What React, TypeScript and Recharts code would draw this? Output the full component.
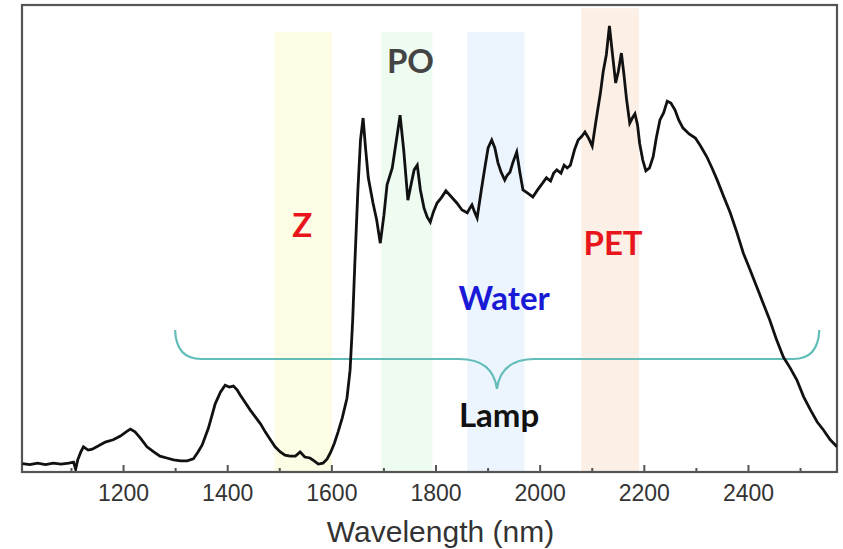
import React from 'react';
import {
  LineChart, Line, XAxis, YAxis, ReferenceArea, ReferenceDot,
} from 'recharts';

// Wavelength (nm) samples along the spectrum
const wavelengthNm = [
  1006, 1020, 1035, 1050, 1065, 1080, 1095, 1104, 1108, 1112,
  1118, 1123, 1132, 1140, 1152, 1165, 1180, 1194, 1205, 1213,
  1222, 1232, 1245, 1258, 1270, 1283, 1296, 1310, 1322, 1334,
  1343, 1351, 1363, 1376, 1386, 1395, 1403, 1411, 1418, 1424,
  1433, 1443, 1453, 1463, 1472, 1482, 1491, 1501, 1510, 1520,
  1530, 1539, 1548, 1558, 1566, 1574, 1583, 1591, 1598, 1605,
  1612, 1620, 1629, 1635, 1640, 1644, 1650, 1655, 1660, 1665,
  1670, 1679, 1686, 1693, 1700, 1706, 1716, 1724, 1731, 1738,
  1746, 1752, 1758, 1764, 1770, 1777, 1783, 1789, 1795, 1802,
  1810, 1819, 1828, 1840, 1850, 1860, 1865, 1869, 1874, 1879,
  1887, 1894, 1900, 1907, 1913, 1919, 1925, 1932, 1937, 1942,
  1948, 1955, 1961, 1967, 1976, 1986, 1995, 2005, 2012, 2020,
  2026, 2032, 2040, 2046, 2052, 2058, 2066, 2073, 2080, 2086,
  2093, 2100, 2106, 2111, 2116, 2121, 2127, 2133, 2139, 2145,
  2150, 2156, 2161, 2166, 2172, 2177, 2182, 2187, 2191, 2197,
  2203, 2210, 2217, 2223, 2230, 2237, 2244, 2251, 2259, 2266,
  2274, 2286, 2298, 2308, 2320, 2330, 2340, 2352, 2365, 2378,
  2390, 2403, 2416, 2428, 2441, 2454, 2467, 2480, 2493, 2506,
  2519, 2532, 2544, 2557, 2570,
];

// Relative intensity (a.u.)
const intensity = [
  1.8, 1.6, 1.9, 1.6, 1.9, 1.7, 1.9, 2.1, 0.6, 2.6,
  4.3, 5.4, 4.7, 4.9, 5.6, 6.4, 6.9, 7.7, 8.6, 9.2,
  8.6, 7.3, 5.4, 4.3, 3.4, 3.0, 2.6, 2.4, 2.4, 2.8,
  4.3, 5.8, 9.4, 14.6, 17.1, 18.6, 18.2, 18.4, 17.6, 16.5,
  15.0, 13.3, 11.8, 10.3, 8.6, 6.9, 5.4, 4.3, 3.6, 3.4,
  3.4, 4.3, 3.2, 3.0, 2.4, 1.7, 1.9, 2.8, 4.3, 6.2,
  8.6, 11.6, 15.8, 21.8, 32.5, 44.3, 60.4, 71.1, 75.8, 69.0,
  63.0, 57.6, 54.0, 49.0, 55.0, 61.5, 65.1, 71.1, 76.4, 68.9,
  58.2, 61.5, 64.7, 65.7, 60.4, 56.5, 54.6, 53.5, 55.7, 57.6,
  58.7, 60.2, 59.1, 57.6, 56.1, 55.5, 56.5, 57.2, 55.7, 54.4,
  60.4, 65.3, 69.4, 71.1, 69.4, 66.2, 64.2, 62.5, 63.6, 64.2,
  66.4, 68.5, 64.2, 60.4, 59.7, 58.9, 60.4, 61.9, 63.0, 62.3,
  64.0, 64.7, 64.0, 65.7, 65.1, 65.7, 69.0, 71.1, 71.9, 72.8,
  71.5, 69.8, 74.3, 77.9, 81.4, 85.7, 89.3, 95.5, 89.3, 83.3,
  85.7, 89.7, 85.0, 79.7, 74.7, 75.8, 76.7, 74.3, 70.4, 66.8,
  64.5, 65.1, 67.5, 71.5, 75.4, 76.9, 79.4, 79.0, 77.5, 75.4,
  73.7, 72.4, 71.5, 69.8, 67.5, 65.1, 62.5, 59.1, 55.5, 51.2,
  46.9, 43.3, 39.6, 36.2, 32.5, 28.3, 24.6, 22.3, 19.7, 16.1,
  13.3, 10.7, 9.0, 6.9, 5.4,
];

const xTicks = [1100, 1200, 1300, 1400, 1500, 1600, 1700, 1800, 1900, 2000, 2100, 2200, 2300, 2400, 2500];
const xDomain = [1005, 2570];
const yDomain = [0, 100];

// Absorption bands (nm)
const bands = [
  { name: 'Z', from: 1490, to: 1600, top: 94.2, color: '#fdfde6' },
  { name: 'PO', from: 1695, to: 1793, top: 94.2, color: '#edfbf1' },
  { name: 'Water', from: 1860, to: 1970, top: 94.2, color: '#ecf5fd' },
  { name: 'PET', from: 2079, to: 2190, top: 99.3, color: '#fcefe5' },
];

const annotations = [
  { text: 'Z', nm: 1543, level: 50.3, color: '#e8161c' },
  { text: 'PO', nm: 1751, level: 85.4, color: '#444444' },
  { text: 'PET', nm: 2140, level: 46.5, color: '#e8161c' },
  { text: 'Water', nm: 1931, level: 34.7, color: '#1a1ad6' },
  { text: 'Lamp', nm: 1921, level: 9.6, color: '#111111' },
];

// Lamp brace: span in nm and levels (top, middle line, tip)
const brace = { from: 1299, to: 2536, tip: 1917, top: 30.4, mid: 24.2, bottom: 17.8 };

const data = wavelengthNm.slice(0, Math.min(wavelengthNm.length, intensity.length)).map((w, i) => ({
  nm: w,
  v: intensity[i],
}));

const AXIS_FONT = 'Arial, "Liberation Sans", sans-serif';

const renderTick = (props: any) => {
  const { x, y, payload } = props;
  const major = payload.value % 200 === 0;
  return (
    <g>
      <line x1={x} x2={x} y1={y} y2={y - (major ? 7 : 4)} stroke="#555" strokeWidth={2} />
      {major && (
        <text x={x} y={y + 29} textAnchor="middle" fill="#333"
          style={{ fontFamily: AXIS_FONT, fontSize: 23 }}>
          {payload.value}
        </text>
      )}
    </g>
  );
};

const BraceShape = (props: any) => {
  const { x, y, width, height } = props;
  const left = x;
  const right = x + width;
  const top = y;
  const bottom = y + height;
  const midY = top + height * (brace.top - brace.mid) / (brace.top - brace.bottom);
  const tipX = x + width * (brace.tip - brace.from) / (brace.to - brace.from);
  const r = 26;
  const c = 38;
  const d = [
    `M ${left} ${top}`,
    `Q ${left + 1} ${midY} ${left + r} ${midY}`,
    `L ${tipX - c} ${midY}`,
    `Q ${tipX - 4} ${midY} ${tipX} ${bottom}`,
    `Q ${tipX + 4} ${midY} ${tipX + c} ${midY}`,
    `L ${right - r} ${midY}`,
    `Q ${right - 1} ${midY} ${right} ${top}`,
  ].join(' ');
  return <path d={d} fill="none" stroke="#62bdb9" strokeWidth={2.2} />;
};

const FrameShape = (props: any) => {
  const { x, y, width, height } = props;
  return <rect x={x} y={y} width={width} height={height} fill="none" stroke="#555" strokeWidth={2.2} />;
};

export default function App() {
  return (
    <div style={{ position: 'absolute', left: 0, top: 0, background: '#fff' }}>
      <LineChart width={843} height={549} data={data}
        margin={{ top: 5, right: 6, bottom: 0, left: 22 }}>
        <XAxis dataKey="nm" type="number" domain={xDomain} ticks={xTicks} interval={0}
          allowDataOverflow tickSize={0} tickMargin={0} tickLine={false} tick={renderTick}
          height={77} axisLine={{ stroke: '#555', strokeWidth: 2 }}
          label={{ value: 'Wavelength (nm)', position: 'insideBottom', offset: 7, dx: 11,
            fill: '#333', style: { fontFamily: AXIS_FONT, fontSize: 30 } }} />
        <YAxis type="number" domain={yDomain} width={0} tick={false} tickLine={false}
          allowDataOverflow axisLine={false} />
        {bands.map((b) => (
          <ReferenceArea key={b.name} x1={b.from} x2={b.to} y1={0} y2={b.top}
            fill={b.color} fillOpacity={1} stroke="none" />
        ))}
        <ReferenceArea x1={brace.from} x2={brace.to} y1={brace.bottom} y2={brace.top}
          shape={BraceShape} />
        <Line dataKey="v" type="linear" stroke="#111" strokeWidth={2.8} dot={false}
          isAnimationActive={false} />
        <ReferenceArea x1={xDomain[0]} x2={xDomain[1]} y1={yDomain[0]} y2={yDomain[1]}
          ifOverflow="visible" shape={FrameShape} />
        {annotations.map((a) => (
          <ReferenceDot key={a.text} x={a.nm} y={a.level} r={0} ifOverflow="visible"
            shape={(p: any) => (
              <text x={p.cx} y={p.cy} textAnchor="middle" fontSize={33} fontWeight={700}
                fill={a.color} fontFamily="Lato, 'Open Sans', sans-serif">
                {a.text}
              </text>
            )} />
        ))}
      </LineChart>
    </div>
  );
}
